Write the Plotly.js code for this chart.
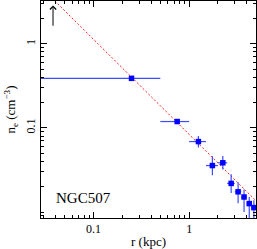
<!DOCTYPE html>
<html><head><meta charset="utf-8">
<script src="https://cdn.plot.ly/plotly-3.0.1.min.js"></script>
<style>html,body{margin:0;padding:0;background:#fff}#plot{width:257px;height:249px}</style>
</head><body><div id="plot"></div>
<script>
// radial bins (kpc)
var rCenter = [0.25, 0.75, 1.25, 1.75, 2.25, 2.75, 3.25, 3.75, 4.25, 4.75];
var rMinus  = [0.2499, 0.25, 0.25, 0.25, 0.25, 0.25, 0.25, 0.25, 0.25, 0.25];
var rPlus   = [0.25, 0.25, 0.25, 0.25, 0.25, 0.25, 0.25, 0.25, 0.25, 0.25];
// electron density (cm^-3)
var ne      = [0.388, 0.119, 0.0688, 0.0357, 0.0385, 0.0219, 0.0174, 0.0151, 0.0126, 0.0113];
var neUp    = [0.006, 0.006, 0.0114, 0.0104, 0.0079, 0.0063, 0.0052, 0.0034, 0.0025, 0.0025];
var neDown  = [0.006, 0.006, 0.0104, 0.0083, 0.0065, 0.0050, 0.0047, 0.0051, 0.0045, 0.0045];
// power-law model line
var fitR  = [0.03, 5.0];
var fitNe = [4.4, 0.0136];
// upper-limit arrow
var arrowR = [0.0378];
var arrowNe = [1.57, 2.85];
var xTicks = [0.1, 1];
var xTickText = ['0.1', '1'];
var yTicks = [0.1, 1];
var yTickText = ['0.1', '1'];
var label = 'NGC507';

var serif = 'Liberation Serif, DejaVu Serif, serif';
var traces = [
  {x: fitR, y: fitNe, mode: 'lines', type: 'scatter',
   line: {color: '#ff2020', width: 1, dash: '2px,2px'}, hoverinfo: 'skip'},
  {x: rCenter, y: ne, mode: 'markers', type: 'scatter',
   marker: {symbol: 'square', size: 5.5, color: '#0000ff'},
   error_x: {type: 'data', symmetric: false, array: rPlus, arrayminus: rMinus, color: '#3c4cff', thickness: 1.2, width: 0},
   error_y: {type: 'data', symmetric: false, array: neUp, arrayminus: neDown, color: '#3c4cff', thickness: 1.2, width: 0}}
];
var axisCommon = {
  type: 'log', showgrid: false, zeroline: false, showline: true, linecolor: '#000', linewidth: 1,
  mirror: 'allticks', ticks: 'inside', ticklen: 6, tickcolor: '#000', tickwidth: 1,
  minor: {ticks: 'inside', ticklen: 3, tickcolor: '#000', tickwidth: 1, dtick: 'D1', showgrid: false},
  tickfont: {family: serif, size: 12, color: '#000'}
};
var layout = {
  width: 257, height: 249,
  margin: {l: 41, r: 1, t: 1, b: 31},
  paper_bgcolor: '#fff', plot_bgcolor: '#fff', showlegend: false,
  xaxis: Object.assign({}, axisCommon, {
    range: [Math.log10(0.0283), Math.log10(5.0)],
    tickvals: xTicks, ticktext: xTickText,
    title: {text: 'r (kpc)', font: {family: serif, size: 13, color: '#000'}, standoff: 3}
  }),
  yaxis: Object.assign({}, axisCommon, {
    range: [Math.log10(0.0085), Math.log10(3.22)],
    tickvals: yTicks, ticktext: yTickText, tickangle: -90,
    title: {text: 'n<sub>e</sub> (cm<sup>\u22123</sup>)', font: {family: serif, size: 13, color: '#000'}, standoff: 5}
  }),
  annotations: [
    {x: Math.log10(arrowR[0]), y: Math.log10(arrowNe[1]), xref: 'x', yref: 'y',
     ax: Math.log10(arrowR[0]), ay: Math.log10(arrowNe[0]), axref: 'x', ayref: 'y',
     showarrow: true, arrowhead: 4, arrowsize: 1.2, arrowwidth: 1, arrowcolor: '#000', text: ''},
    {x: 0.06, y: 0.048, xref: 'paper', yref: 'paper', xanchor: 'left', yanchor: 'bottom',
     text: label, showarrow: false, font: {family: serif, size: 15, color: '#000'}}
  ]
};
Plotly.newPlot('plot', traces, layout, {staticPlot: true, displayModeBar: false});
</script></body></html>
